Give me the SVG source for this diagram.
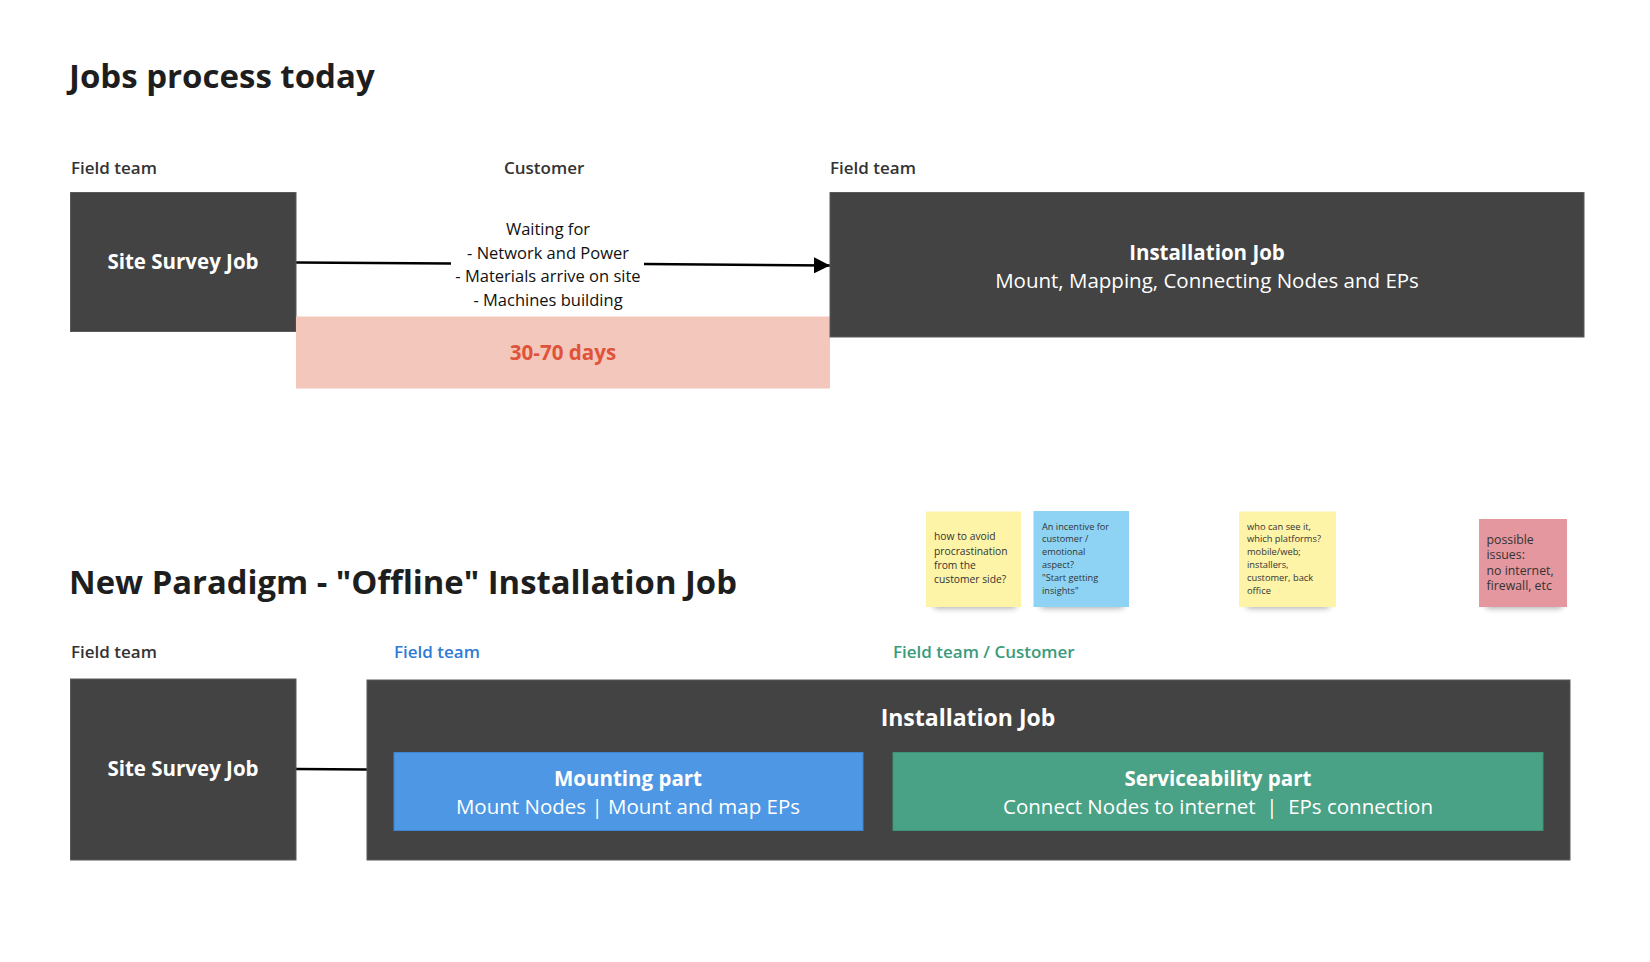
<svg xmlns="http://www.w3.org/2000/svg" width="1650" height="962" viewBox="0 0 1650 962">
<style>
text{font-family:"Open Sans","Liberation Sans",sans-serif;}
.title{font-size:33px;font-weight:700;fill:#1e1e1e;}
.lane{font-size:17px;font-weight:600;fill:#333333;}
.box{fill:#434343;stroke:#5a5a5a;stroke-width:1;}
.wt{fill:#ffffff;font-size:20.5px;font-weight:700;text-anchor:middle;}
.wr{fill:#ffffff;font-size:20.5px;font-weight:400;text-anchor:middle;}
.note{font-size:10.3px;fill:#333333;}
.conn{stroke:#000000;stroke-width:2.5;fill:none;}
</style>
<defs>
<marker id="arrow" viewBox="0 0 16 16" refX="16" refY="8" markerWidth="16" markerHeight="16" orient="auto" markerUnits="userSpaceOnUse">
<path d="M0,0 L16,8 L0,16 z" fill="#000"/>
</marker>
<filter id="sh" x="-20%" y="-100%" width="140%" height="300%">
<feGaussianBlur stdDeviation="3"/>
</filter>
</defs>
<rect width="1650" height="962" fill="#ffffff"/>

<text class="title" x="69" y="88">Jobs process today</text>
<text class="lane" x="71" y="174">Field team</text>
<text class="lane" x="504" y="174">Customer</text>
<text class="lane" x="830" y="174">Field team</text>

<g id="connectors">
<line class="conn" x1="296" y1="262.5" x2="451" y2="263.5"/>
<line class="conn" x1="644" y1="264" x2="830" y2="265.5" marker-end="url(#arrow)"/>
<line class="conn" x1="296" y1="769" x2="367" y2="769.5"/>
</g>

<g id="site-survey-1">
<rect class="box" x="70.5" y="192.5" width="225.5" height="139"/>
<text class="wt" x="183" y="269">Site Survey Job</text>
</g>

<g id="waiting">
<rect x="296" y="316.5" width="534" height="72" fill="#f4c7bc"/>
<text x="563" y="360" text-anchor="middle" font-size="20.6" font-weight="700" fill="#e0533b">30-70 days</text>
<g font-size="16.5" fill="#111" text-anchor="middle">
<text x="548" y="235">Waiting for</text>
<text x="548" y="258.5">- Network and Power</text>
<text x="548" y="282">- Materials arrive on site</text>
<text x="548" y="305.5">- Machines building</text>
</g>
</g>

<g id="installation-1">
<rect class="box" x="830" y="192.5" width="754" height="144.5"/>
<text class="wt" x="1207" y="259.5">Installation Job</text>
<text class="wr" x="1207" y="288">Mount, Mapping, Connecting Nodes and EPs</text>
</g>

<text class="title" x="69" y="594" style="font-size:32.8px">New Paradigm - "Offline" Installation Job</text>
<text class="lane" x="71" y="657.5">Field team</text>
<text class="lane" x="394" y="657.5" style="fill:#2f7bd5">Field team</text>
<text class="lane" x="893" y="657.5" style="fill:#3a9b7c">Field team / Customer</text>

<g id="site-survey-2">
<rect class="box" x="70.5" y="679" width="225.5" height="181"/>
<text class="wt" x="183" y="776">Site Survey Job</text>
</g>

<g id="installation-2">
<rect class="box" x="367" y="680" width="1203" height="180"/>
<text class="wt" x="968" y="725.5" style="font-size:23px">Installation Job</text>
</g>

<g id="mounting">
<rect x="394" y="752.5" width="469" height="78" fill="#4d97e4" stroke="#3f86d0" stroke-width="1"/>
<text class="wt" x="628" y="786">Mounting part</text>
<text class="wr" x="628" y="814">Mount Nodes | Mount and map EPs</text>
</g>

<g id="serviceability">
<rect x="893" y="752.5" width="650" height="78" fill="#4aa286" stroke="#3f9377" stroke-width="1"/>
<text class="wt" x="1218" y="786">Serviceability part</text>
<text class="wr" x="1218" y="814" xml:space="preserve">Connect Nodes to internet  |  EPs connection</text>
</g>

<g id="note-1">
<rect x="934" y="598" width="82" height="10" fill="#000" opacity="0.35" filter="url(#sh)"/>
<rect x="926" y="511.5" width="95" height="95.5" fill="#fdf4a7"/>
<g class="note">
<text x="934" y="540">how to avoid</text>
<text x="934" y="554.5">procrastination</text>
<text x="934" y="568.5">from the</text>
<text x="934" y="583">customer side?</text>
</g>
</g>

<g id="note-2">
<rect x="1041" y="598" width="82" height="10" fill="#000" opacity="0.35" filter="url(#sh)"/>
<rect x="1033.5" y="511" width="95.5" height="96" fill="#8ed3f3"/>
<g class="note" style="font-size:9.2px">
<text x="1042" y="529.5">An incentive for</text>
<text x="1042" y="542.3">customer /</text>
<text x="1042" y="555.1">emotional</text>
<text x="1042" y="567.9">aspect?</text>
<text x="1042" y="580.7">"Start getting</text>
<text x="1042" y="593.5">insights"</text>
</g>
</g>

<g id="note-3">
<rect x="1247" y="598" width="82" height="10" fill="#000" opacity="0.35" filter="url(#sh)"/>
<rect x="1239" y="511.5" width="97" height="95.5" fill="#fdf4a7"/>
<g class="note" style="font-size:9.3px">
<text x="1247" y="529.5">who can see it,</text>
<text x="1247" y="542.3">which platforms?</text>
<text x="1247" y="555.1">mobile/web;</text>
<text x="1247" y="567.9">installers,</text>
<text x="1247" y="580.7">customer, back</text>
<text x="1247" y="593.5">office</text>
</g>
</g>

<g id="note-4">
<rect x="1486" y="598" width="76" height="10" fill="#000" opacity="0.35" filter="url(#sh)"/>
<rect x="1479" y="519" width="88" height="88" fill="#e4979e"/>
<g class="note" style="font-size:12.3px">
<text x="1486.5" y="543.5">possible</text>
<text x="1486.5" y="559">issues:</text>
<text x="1486.5" y="574.5">no internet,</text>
<text x="1486.5" y="590">firewall, etc</text>
</g>
</g>
</svg>
